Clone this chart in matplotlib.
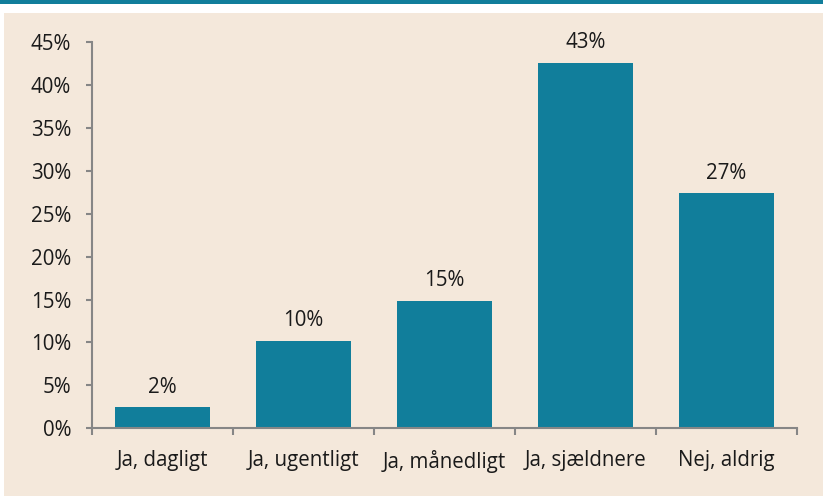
import matplotlib
matplotlib.use("Agg")
import matplotlib.pyplot as plt
from matplotlib.patches import Rectangle
import numpy as np

categories = ["Ja, dagligt", "Ja, ugentligt", "Ja, månedligt", "Ja, sjældnere", "Nej, aldrig"]
values = [0.024, 0.102, 0.148, 0.426, 0.274]
labels = ["2%", "10%", "15%", "43%", "27%"]
yticks = [0, 0.05, 0.10, 0.15, 0.20, 0.25, 0.30, 0.35, 0.40, 0.45]
yticklabels = ["0%", "5%", "10%", "15%", "20%", "25%", "30%", "35%", "40%", "45%"]

teal = "#117E9B"
beige = "#F4E8DB"
grey = "#868686"
W, H = 823, 496
FS = 14.8

plt.rcParams['font.family'] = ['Open Sans', 'DejaVu Sans']

fig = plt.figure(figsize=(W/100, H/100), dpi=100, facecolor="white")
fig.patches.append(Rectangle((0, 1 - 4/H), 1, 4/H, transform=fig.transFigure,
                             facecolor=teal, edgecolor="none", zorder=-2))
fig.patches.append(Rectangle((4/W, 0), 1 - 4/W, 1 - 13/H, transform=fig.transFigure,
                             facecolor=beige, edgecolor="none", zorder=-2))

ax = fig.add_axes([92/W, 1 - 428/H, (797-92)/W, (428-42.5)/H])
ax.patch.set_visible(False)
x = np.arange(len(categories))
bars = ax.bar(x, values, width=0.667, color=teal, zorder=2)
ax.set_xlim(-0.5, len(categories) - 0.5)
ax.set_ylim(0, 0.45)

for xi, v, lab in zip(x, values, labels):
    ax.annotate(lab, (xi, v), xytext=(0, 7), textcoords="offset points",
                ha="center", va="bottom", fontsize=FS, color="#1a1a1a")

ax.set_yticks(yticks)
ax.set_yticklabels(yticklabels)
ax.set_xticks(x)
ax.set_xticklabels(categories)
ax.set_xticks(np.arange(len(categories) + 1) - 0.5, minor=True)

for s in ["top", "right"]:
    ax.spines[s].set_visible(False)
for s in ["left", "bottom"]:
    ax.spines[s].set_color(grey)
    ax.spines[s].set_linewidth(1.5)

ax.tick_params(axis="y", length=4, width=1.5, color=grey, pad=11,
               labelsize=FS, labelcolor="#1a1a1a")
ax.tick_params(axis="x", which="major", length=0, pad=16,
               labelsize=FS, labelcolor="#1a1a1a")
ax.tick_params(axis="x", which="minor", length=5, width=1.5, color=grey)

fig.savefig("out.png", dpi=100, facecolor=fig.get_facecolor())
